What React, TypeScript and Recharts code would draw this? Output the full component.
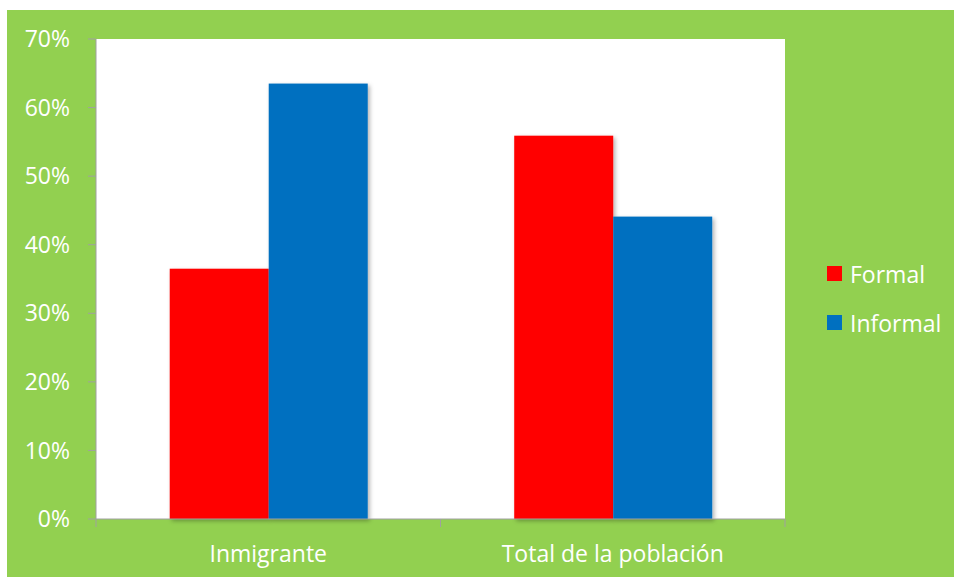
import React from 'react';
import { BarChart, Bar, XAxis, YAxis } from 'recharts';

const categories = ['Inmigrante', 'Total de la población'];
const formalValues = [36.5, 55.9];
const informalValues = [63.5, 44.1];
const yTicks = [0, 10, 20, 30, 40, 50, 60, 70];
const seriesNames = ['Formal', 'Informal'];
const seriesColors = ['#ff0000', '#0070c0'];

const data = categories.map((c, i) => ({
  name: c,
  Formal: formalValues[i],
  Informal: informalValues[i],
}));

const FONT = "'Open Sans', sans-serif";
const FS = 23;
const CHART_W = 947;
const CHART_H = 567;
const MARGIN = { top: 29, right: 169, left: 0, bottom: 0 };
const Y_W = 89;
const X_H = 58;
const PLOT_W = CHART_W - Y_W - MARGIN.right - MARGIN.left;
const BAND = PLOT_W / categories.length;
const AXIS_COLOR = '#a0a0a0';
const GREEN = '#92d050';

function XTick(props: any) {
  const { x, y, payload, index } = props;
  const last = index === categories.length - 1;
  return (
    <g>
      <line x1={x - BAND / 2} x2={x - BAND / 2} y1={y} y2={y + 8} stroke={AXIS_COLOR} strokeWidth={1} />
      {last && (
        <line x1={x + BAND / 2} x2={x + BAND / 2} y1={y} y2={y + 8} stroke={AXIS_COLOR} strokeWidth={1} />
      )}
      <text x={x} y={y + 34} textAnchor="middle" dominantBaseline="central" fill="#ffffff" fontSize={FS} fontFamily={FONT}>
        {payload.value}
      </text>
    </g>
  );
}

function ShadowBar(props: any) {
  const { x, y, width, height, fill } = props;
  if (!height || height <= 0) return null;
  return <rect x={x} y={y} width={width} height={height} fill={fill} filter="url(#barShadow)" />;
}

export default function App() {
  return (
    <div style={{ position: 'absolute', left: 0, top: 0, width: 954, height: 577, background: '#ffffff', overflow: 'hidden' }}>
      <svg width={0} height={0} style={{ position: 'absolute' }}>
        <defs>
          <filter id="barShadow" x="-10%" y="-10%" width="130%" height="130%">
            <feDropShadow dx={2} dy={2} stdDeviation={2} floodColor="#000000" floodOpacity={0.3} />
          </filter>
        </defs>
      </svg>
      <div style={{ position: 'absolute', left: 7, top: 10, width: CHART_W, height: CHART_H, background: GREEN }}>
        <BarChart
          width={CHART_W}
          height={CHART_H}
          data={data}
          margin={MARGIN}
          barCategoryGap="21.4%"
          barGap={0}
        >
          <rect x={Y_W} y={MARGIN.top} width={PLOT_W} height={CHART_H - MARGIN.top - X_H} fill="#ffffff" />
          <XAxis
            dataKey="name"
            height={X_H}
            tickLine={false}
            tickSize={0}
            tickMargin={0}
            axisLine={{ stroke: AXIS_COLOR, strokeWidth: 1 }}
            tick={<XTick />}
            interval={0}
          />
          <YAxis
            width={Y_W}
            domain={[0, 70]}
            ticks={yTicks}
            interval={0}
            tickSize={8}
            tickMargin={18}
            tickFormatter={(v: number) => `${v}%`}
            axisLine={{ stroke: AXIS_COLOR, strokeWidth: 1 }}
            tickLine={{ stroke: AXIS_COLOR, strokeWidth: 1 }}
            tick={{ fill: '#ffffff', fontSize: FS, fontFamily: FONT }}
          />
          {seriesNames.map((s, i) => (
            <Bar key={s} dataKey={s} fill={seriesColors[i]} isAnimationActive={false} shape={<ShadowBar />} />
          ))}
        </BarChart>
      </div>
      <div style={{ position: 'absolute', left: 827, top: 249, fontFamily: FONT, fontSize: FS, color: '#ffffff' }}>
        {seriesNames.map((s, i) => (
          <div key={s} style={{ display: 'flex', alignItems: 'center', height: 49, lineHeight: '30px' }}>
            <span style={{ display: 'inline-block', width: 15, height: 15, background: seriesColors[i], marginRight: 8 }} />
            <span>{s}</span>
          </div>
        ))}
      </div>
    </div>
  );
}
